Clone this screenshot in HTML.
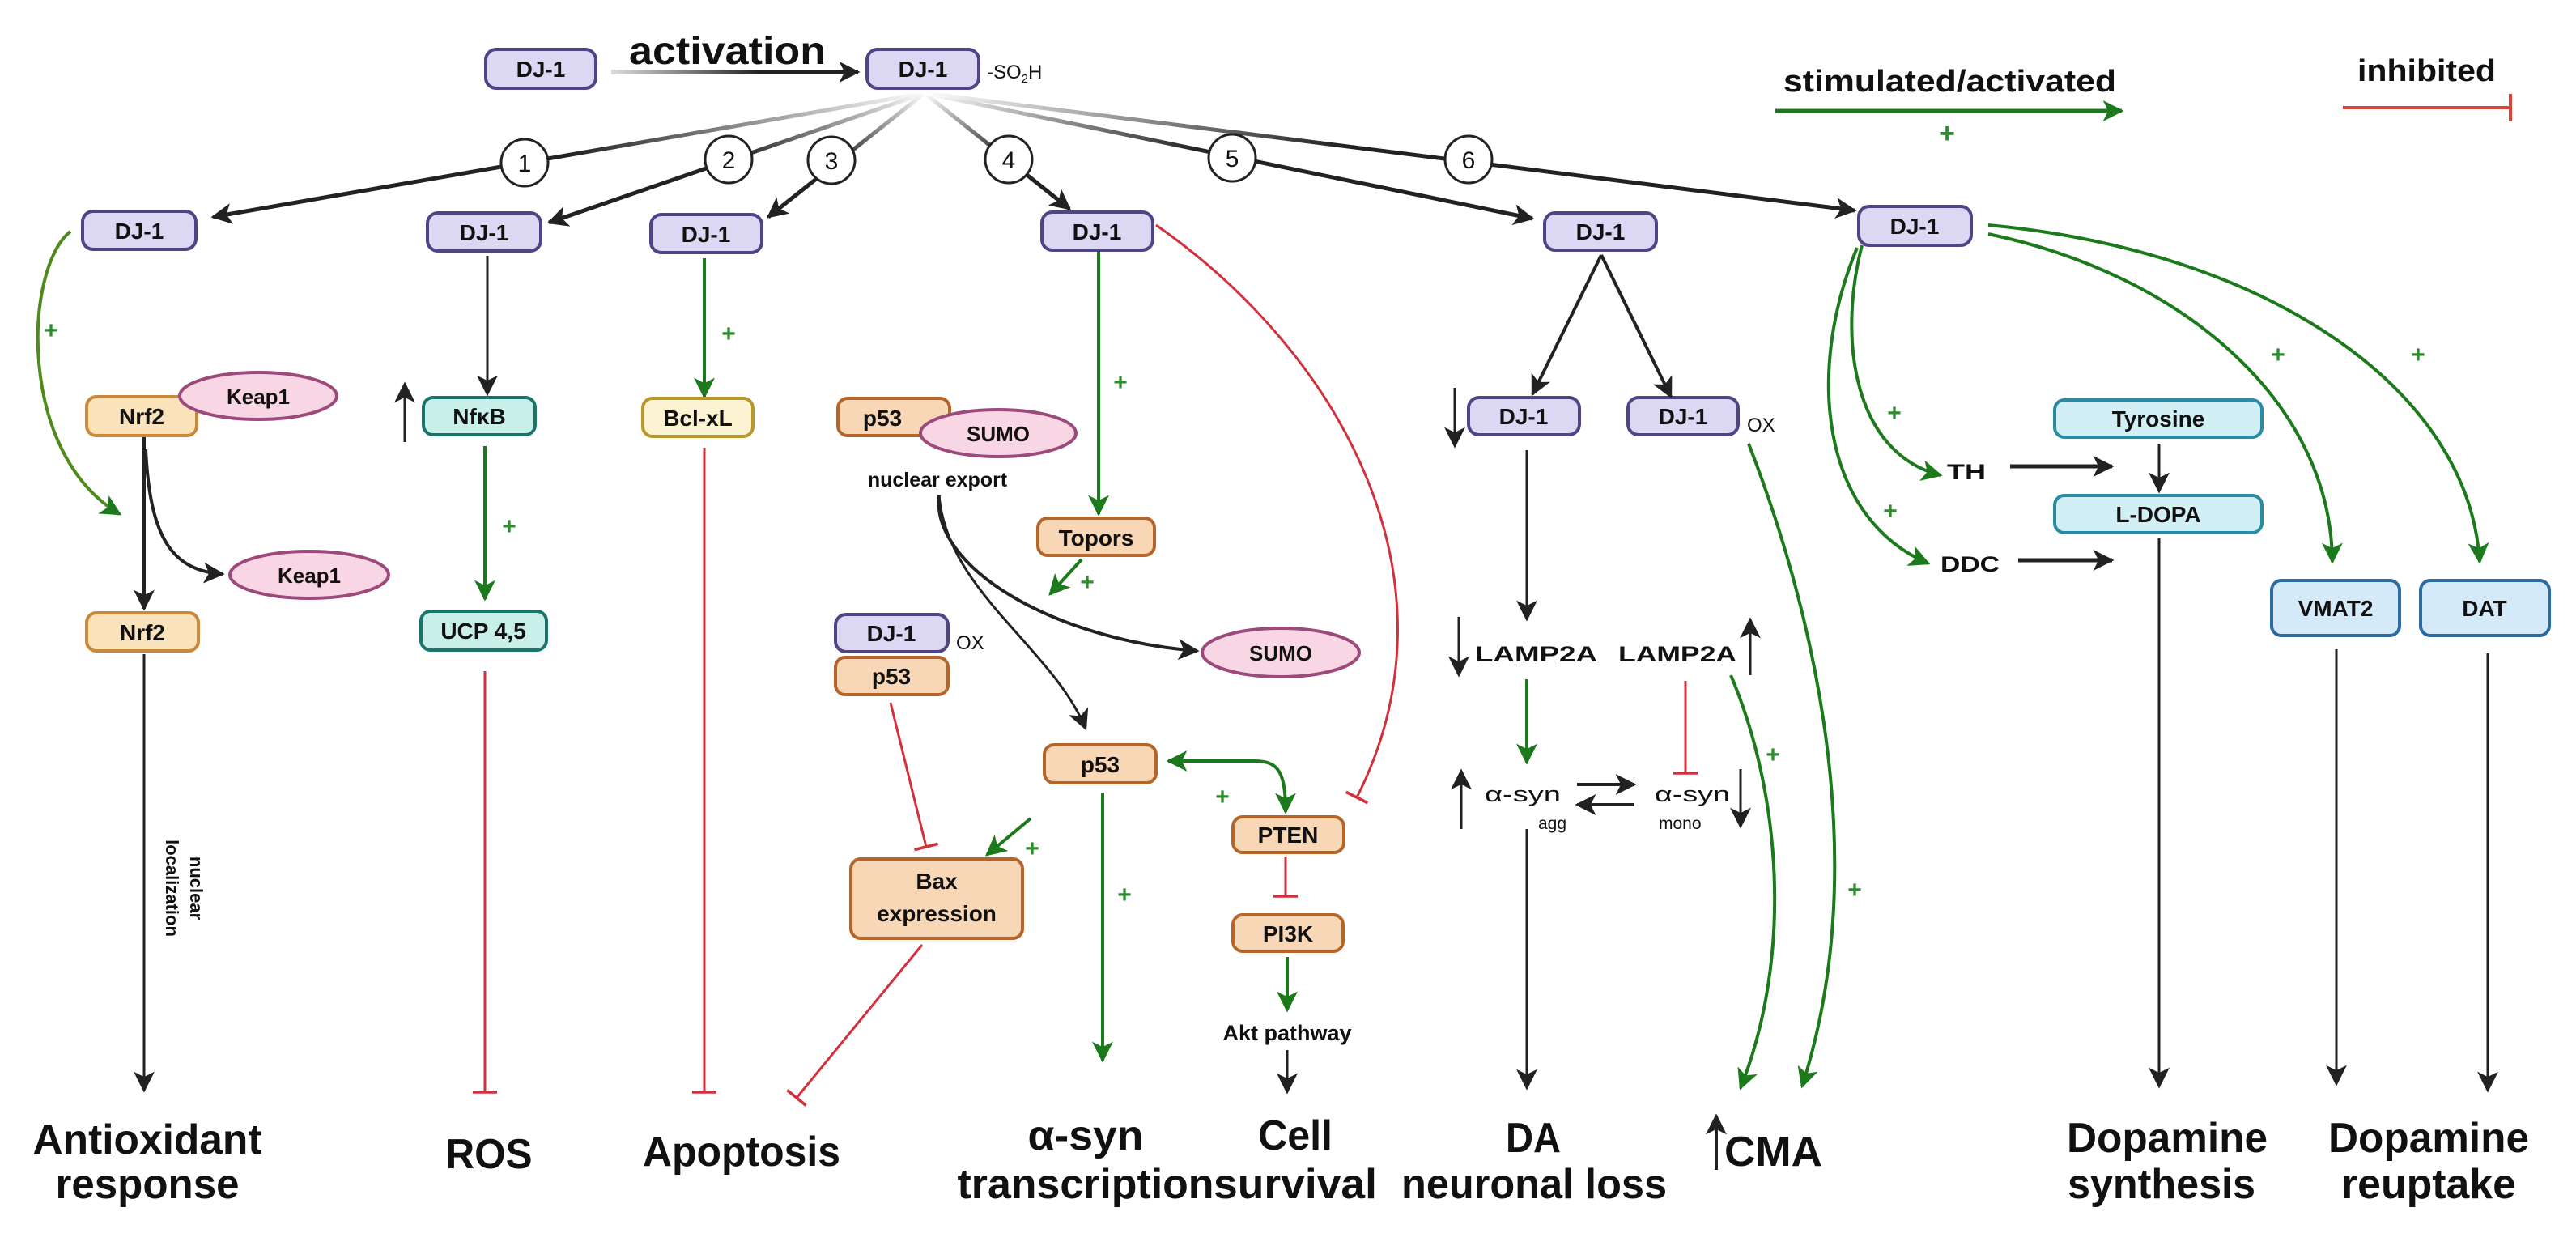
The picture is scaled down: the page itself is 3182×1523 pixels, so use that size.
<!DOCTYPE html>
<html><head><meta charset="utf-8"><style>
html,body{margin:0;padding:0;background:#fff;}
svg{display:block;}
text{font-family:"Liberation Sans",sans-serif;font-weight:bold;fill:#111;}
.bt{font-size:28px;text-anchor:middle;}
.big{font-size:52px;text-anchor:middle;}
.med{font-size:27px;}
.pl{font-size:30px;fill:#2e8b2e;text-anchor:middle;}
</style></head><body>
<svg width="3182" height="1523" viewBox="0 0 3182 1523" xmlns="http://www.w3.org/2000/svg">
<defs>
<marker id="ab" viewBox="0 0 10 10" refX="9" refY="5" markerWidth="26" markerHeight="26" markerUnits="userSpaceOnUse" orient="auto"><path d="M0,0 L10,5 L0,10 L2.5,5z" fill="#222"/></marker>
<marker id="ag" viewBox="0 0 10 10" refX="9" refY="5" markerWidth="26" markerHeight="26" markerUnits="userSpaceOnUse" orient="auto-start-reverse"><path d="M0,0 L10,5 L0,10 L2.5,5z" fill="#1c7a1c"/></marker>
<marker id="tee" viewBox="0 0 10 10" refX="5" refY="5" markerWidth="30" markerHeight="30" markerUnits="userSpaceOnUse" orient="auto"><path d="M5,0 V10" stroke="#d0313b" stroke-width="1.2"/></marker>
<linearGradient id="gact" gradientUnits="userSpaceOnUse" x1="755" y1="89" x2="1060" y2="89"><stop offset="0" stop-color="#ddd"/><stop offset="0.6" stop-color="#222"/></linearGradient>
<linearGradient id="g1" gradientUnits="userSpaceOnUse" x1="1142" y1="115" x2="263" y2="268"><stop offset="0" stop-color="#fff"/><stop offset="0.5" stop-color="#222"/></linearGradient>
<linearGradient id="g2" gradientUnits="userSpaceOnUse" x1="1142" y1="115" x2="678" y2="275"><stop offset="0" stop-color="#fff"/><stop offset="0.5" stop-color="#222"/></linearGradient>
<linearGradient id="g3" gradientUnits="userSpaceOnUse" x1="1142" y1="115" x2="949" y2="268"><stop offset="0" stop-color="#fff"/><stop offset="0.55" stop-color="#222"/></linearGradient>
<linearGradient id="g4" gradientUnits="userSpaceOnUse" x1="1142" y1="115" x2="1321" y2="258"><stop offset="0" stop-color="#fff"/><stop offset="0.55" stop-color="#222"/></linearGradient>
<linearGradient id="g5" gradientUnits="userSpaceOnUse" x1="1142" y1="115" x2="1893" y2="270"><stop offset="0" stop-color="#fff"/><stop offset="0.45" stop-color="#222"/></linearGradient>
<linearGradient id="g6" gradientUnits="userSpaceOnUse" x1="1142" y1="115" x2="2291" y2="260"><stop offset="0" stop-color="#fff"/><stop offset="0.45" stop-color="#222"/></linearGradient>
</defs>

<!-- top -->
<rect x="600" y="61" width="136" height="48" rx="13" fill="#dcd8f3" stroke="#4e4486" stroke-width="4"/>
<text class="bt" x="668" y="95">DJ-1</text>
<text x="777" y="79" style="font-size:48px" textLength="243" lengthAdjust="spacingAndGlyphs">activation</text>
<line x1="755" y1="89" x2="1060" y2="89" stroke="url(#gact)" stroke-width="6" marker-end="url(#ab)"/>
<rect x="1071" y="61" width="138" height="48" rx="13" fill="#dcd8f3" stroke="#4e4486" stroke-width="4"/>
<text class="bt" x="1140" y="95">DJ-1</text>
<text x="1219" y="97" style="font-size:24px;font-weight:normal">-SO<tspan style="font-size:15px" dy="5">2</tspan><tspan dy="-5">H</tspan></text>

<!-- fan -->
<g stroke-width="5" fill="none">
<line x1="1142" y1="115" x2="263" y2="268" stroke="url(#g1)" marker-end="url(#ab)"/>
<line x1="1142" y1="115" x2="678" y2="275" stroke="url(#g2)" marker-end="url(#ab)"/>
<line x1="1142" y1="115" x2="949" y2="268" stroke="url(#g3)" marker-end="url(#ab)"/>
<line x1="1142" y1="115" x2="1321" y2="258" stroke="url(#g4)" marker-end="url(#ab)"/>
<line x1="1142" y1="115" x2="1893" y2="270" stroke="url(#g5)" marker-end="url(#ab)"/>
<line x1="1142" y1="115" x2="2291" y2="260" stroke="url(#g6)" marker-end="url(#ab)"/>
</g>
<g fill="#fff" stroke="#222" stroke-width="3">
<circle cx="648" cy="201" r="29"/><circle cx="900" cy="197" r="29"/><circle cx="1027" cy="198" r="29"/>
<circle cx="1246" cy="197" r="29"/><circle cx="1522" cy="195" r="29"/><circle cx="1814" cy="197" r="29"/>
</g>
<g style="font-size:30px;font-weight:normal" text-anchor="middle">
<text x="648" y="212" style="font-weight:normal">1</text><text x="900" y="208" style="font-weight:normal">2</text><text x="1027" y="209" style="font-weight:normal">3</text>
<text x="1246" y="208" style="font-weight:normal">4</text><text x="1522" y="206" style="font-weight:normal">5</text><text x="1814" y="208" style="font-weight:normal">6</text>
</g>

<!-- row 2 DJ-1 -->
<g fill="#dcd8f3" stroke="#4e4486" stroke-width="4">
<rect x="102" y="261" width="140" height="47" rx="13"/>
<rect x="528" y="263" width="140" height="47" rx="13"/>
<rect x="804" y="265" width="137" height="47" rx="13"/>
<rect x="1287" y="262" width="137" height="47" rx="13"/>
<rect x="1908" y="263" width="138" height="46" rx="13"/>
<rect x="2296" y="255" width="139" height="48" rx="13"/>
<rect x="1814" y="491" width="137" height="46" rx="13"/>
<rect x="2011" y="491" width="136" height="46" rx="13"/>
<rect x="1032" y="759" width="139" height="46" rx="13"/>
</g>
<text class="bt" x="172" y="295">DJ-1</text>
<text class="bt" x="598" y="297">DJ-1</text>
<text class="bt" x="872" y="299">DJ-1</text>
<text class="bt" x="1355" y="296">DJ-1</text>
<text class="bt" x="1977" y="296">DJ-1</text>
<text class="bt" x="2365" y="289">DJ-1</text>
<text class="bt" x="1882" y="524">DJ-1</text>
<text class="bt" x="2079" y="524">DJ-1</text>
<text class="bt" x="1101" y="792">DJ-1</text>
<text x="2158" y="533" style="font-size:24px;font-weight:normal">OX</text>
<text x="1181" y="802" style="font-size:24px;font-weight:normal">OX</text>

<!-- column 1 -->
<path d="M87,286 C30,330 20,560 148,635" fill="none" stroke="#4e8a1c" stroke-width="4" marker-end="url(#ag)"/>
<text class="pl" x="63" y="418">+</text>
<rect x="107" y="490" width="136" height="48" rx="12" fill="#fae3bb" stroke="#c9893a" stroke-width="4"/>
<text class="bt" x="175" y="524">Nrf2</text>
<ellipse cx="319" cy="489" rx="97" ry="29" fill="#f9d6e4" stroke="#9c4a7c" stroke-width="4"/>
<text class="bt" x="319" y="499" style="font-size:26px">Keap1</text>
<line x1="178" y1="540" x2="178" y2="752" stroke="#222" stroke-width="4" marker-end="url(#ab)"/>
<path d="M180,555 C185,660 210,705 275,709" fill="none" stroke="#222" stroke-width="4" marker-end="url(#ab)"/>
<ellipse cx="382" cy="710" rx="98" ry="29" fill="#f9d6e4" stroke="#9c4a7c" stroke-width="4"/>
<text class="bt" x="382" y="720" style="font-size:26px">Keap1</text>
<rect x="107" y="757" width="138" height="47" rx="12" fill="#fae3bb" stroke="#c9893a" stroke-width="4"/>
<text class="bt" x="176" y="791">Nrf2</text>
<line x1="178" y1="808" x2="178" y2="1347" stroke="#222" stroke-width="3" marker-end="url(#ab)"/>
<g transform="translate(205,1097) rotate(90)"><text x="0" y="0" style="font-size:22px" text-anchor="middle">localization</text></g>
<g transform="translate(235,1097) rotate(90)"><text x="0" y="0" style="font-size:22px" text-anchor="middle">nuclear</text></g>
<text class="big" x="182" y="1425" textLength="283" lengthAdjust="spacingAndGlyphs">Antioxidant</text>
<text class="big" x="182" y="1480" textLength="227" lengthAdjust="spacingAndGlyphs">response</text>

<!-- column 2 -->
<line x1="602" y1="316" x2="602" y2="487" stroke="#222" stroke-width="3" marker-end="url(#ab)"/>
<line x1="500" y1="546" x2="500" y2="474" stroke="#222" stroke-width="3" marker-end="url(#ab)"/>
<rect x="523" y="491" width="138" height="46" rx="12" fill="#c9efe9" stroke="#19756a" stroke-width="4"/>
<text class="bt" x="592" y="524">NfκB</text>
<line x1="599" y1="551" x2="599" y2="740" stroke="#1c7a1c" stroke-width="4" marker-end="url(#ag)"/>
<text class="pl" x="629" y="660">+</text>
<rect x="520" y="755" width="155" height="48" rx="12" fill="#c9efe9" stroke="#19756a" stroke-width="4"/>
<text class="bt" x="597" y="789">UCP 4,5</text>
<line x1="599" y1="829" x2="599" y2="1349" stroke="#d0313b" stroke-width="3" marker-end="url(#tee)"/>
<text class="big" x="604" y="1443" textLength="107" lengthAdjust="spacingAndGlyphs">ROS</text>

<!-- column 3 -->
<line x1="870" y1="319" x2="870" y2="490" stroke="#1c7a1c" stroke-width="4" marker-end="url(#ag)"/>
<text class="pl" x="900" y="422">+</text>
<rect x="794" y="492" width="136" height="47" rx="12" fill="#fbf3d2" stroke="#b8982a" stroke-width="4"/>
<text class="bt" x="862" y="526">Bcl-xL</text>
<line x1="870" y1="553" x2="870" y2="1349" stroke="#d0313b" stroke-width="3" marker-end="url(#tee)"/>
<text class="big" x="916" y="1440" textLength="244" lengthAdjust="spacingAndGlyphs">Apoptosis</text>

<!-- column 4 -->
<rect x="1035" y="492" width="138" height="46" rx="12" fill="#f7d7b5" stroke="#b5652a" stroke-width="4"/>
<text class="bt" x="1090" y="526">p53</text>
<ellipse cx="1233" cy="535" rx="96" ry="29" fill="#f9d6e4" stroke="#9c4a7c" stroke-width="4"/>
<text class="bt" x="1233" y="545" style="font-size:26px">SUMO</text>
<text x="1158" y="601" style="font-size:25px" text-anchor="middle">nuclear export</text>
<path d="M1160,612 C1150,700 1300,790 1479,804" fill="none" stroke="#222" stroke-width="4" marker-end="url(#ab)"/>
<path d="M1160,612 C1170,730 1300,800 1341,900" fill="none" stroke="#222" stroke-width="3" marker-end="url(#ab)"/>
<ellipse cx="1582" cy="806" rx="97" ry="30" fill="#f9d6e4" stroke="#9c4a7c" stroke-width="4"/>
<text class="bt" x="1582" y="816" style="font-size:26px">SUMO</text>
<line x1="1357" y1="311" x2="1357" y2="635" stroke="#1c7a1c" stroke-width="4" marker-end="url(#ag)"/>
<text class="pl" x="1384" y="482">+</text>
<rect x="1282" y="640" width="144" height="46" rx="12" fill="#f7d7b5" stroke="#b5652a" stroke-width="4"/>
<text class="bt" x="1354" y="674">Topors</text>
<line x1="1336" y1="691" x2="1297" y2="734" stroke="#1c7a1c" stroke-width="4" marker-end="url(#ag)"/>
<text class="pl" x="1343" y="729">+</text>
<rect x="1032" y="812" width="139" height="46" rx="12" fill="#f7d7b5" stroke="#b5652a" stroke-width="4"/>
<text class="bt" x="1101" y="845">p53</text>
<line x1="1100" y1="868" x2="1144" y2="1046" stroke="#d0313b" stroke-width="3" marker-end="url(#tee)"/>
<rect x="1051" y="1061" width="212" height="98" rx="12" fill="#f7d7b5" stroke="#b5652a" stroke-width="4"/>
<text class="bt" x="1157" y="1098">Bax</text>
<text class="bt" x="1157" y="1138">expression</text>
<line x1="1273" y1="1011" x2="1219" y2="1056" stroke="#1c7a1c" stroke-width="4" marker-end="url(#ag)"/>
<text class="pl" x="1275" y="1058">+</text>
<line x1="1139" y1="1167" x2="984" y2="1356" stroke="#d0313b" stroke-width="3" marker-end="url(#tee)"/>
<rect x="1290" y="920" width="138" height="47" rx="12" fill="#f7d7b5" stroke="#b5652a" stroke-width="4"/>
<text class="bt" x="1359" y="954">p53</text>
<line x1="1362" y1="979" x2="1362" y2="1310" stroke="#1c7a1c" stroke-width="4" marker-end="url(#ag)"/>
<text class="pl" x="1389" y="1115">+</text>
<path d="M1443,940 L1550,940 C1580,940 1588,955 1588,1003" fill="none" stroke="#1c7a1c" stroke-width="4" marker-start="url(#ag)" marker-end="url(#ag)"/>
<text class="pl" x="1510" y="994">+</text>
<rect x="1523" y="1009" width="137" height="44" rx="12" fill="#f7d7b5" stroke="#b5652a" stroke-width="4"/>
<text class="bt" x="1591" y="1041">PTEN</text>
<line x1="1588" y1="1058" x2="1588" y2="1107" stroke="#d0313b" stroke-width="3" marker-end="url(#tee)"/>
<rect x="1523" y="1130" width="136" height="45" rx="12" fill="#f7d7b5" stroke="#b5652a" stroke-width="4"/>
<text class="bt" x="1591" y="1163">PI3K</text>
<line x1="1590" y1="1182" x2="1590" y2="1248" stroke="#1c7a1c" stroke-width="4" marker-end="url(#ag)"/>
<text x="1590" y="1285" class="med" text-anchor="middle">Akt pathway</text>
<line x1="1590" y1="1297" x2="1590" y2="1349" stroke="#222" stroke-width="3" marker-end="url(#ab)"/>
<path d="M1428,278 C1660,440 1810,720 1676,985" fill="none" stroke="#d0313b" stroke-width="3" marker-end="url(#tee)"/>
<text class="big" x="1341" y="1420" textLength="143" lengthAdjust="spacingAndGlyphs">α-syn</text>
<text class="big" x="1341" y="1480" textLength="317" lengthAdjust="spacingAndGlyphs">transcription</text>
<text class="big" x="1600" y="1420" textLength="92" lengthAdjust="spacingAndGlyphs">Cell</text>
<text class="big" x="1600" y="1480" textLength="202" lengthAdjust="spacingAndGlyphs">survival</text>

<!-- column 5 -->
<line x1="1978" y1="315" x2="1893" y2="487" stroke="#222" stroke-width="4" marker-end="url(#ab)"/>
<line x1="1978" y1="315" x2="2064" y2="490" stroke="#222" stroke-width="4" marker-end="url(#ab)"/>
<line x1="1797" y1="479" x2="1797" y2="551" stroke="#222" stroke-width="3" marker-end="url(#ab)"/>
<line x1="1886" y1="556" x2="1886" y2="765" stroke="#222" stroke-width="3" marker-end="url(#ab)"/>
<line x1="1802" y1="762" x2="1802" y2="834" stroke="#222" stroke-width="3" marker-end="url(#ab)"/>
<text x="1822" y="817" class="med" textLength="151" lengthAdjust="spacingAndGlyphs">LAMP2A</text>
<text x="1999" y="817" class="med" textLength="146" lengthAdjust="spacingAndGlyphs">LAMP2A</text>
<line x1="2162" y1="834" x2="2162" y2="765" stroke="#222" stroke-width="3" marker-end="url(#ab)"/>
<line x1="1886" y1="839" x2="1886" y2="942" stroke="#1c7a1c" stroke-width="4" marker-end="url(#ag)"/>
<line x1="2082" y1="841" x2="2082" y2="955" stroke="#d0313b" stroke-width="3" marker-end="url(#tee)"/>
<line x1="1805" y1="1024" x2="1805" y2="952" stroke="#222" stroke-width="3" marker-end="url(#ab)"/>
<text x="1834" y="990" class="med" style="font-weight:normal" textLength="94" lengthAdjust="spacingAndGlyphs">α-syn</text>
<text x="1900" y="1024" style="font-size:21px;font-weight:normal">agg</text>
<line x1="1948" y1="969" x2="2019" y2="969" stroke="#222" stroke-width="4" marker-end="url(#ab)"/>
<line x1="2019" y1="994" x2="1948" y2="994" stroke="#222" stroke-width="4" marker-end="url(#ab)"/>
<text x="2044" y="990" class="med" style="font-weight:normal" textLength="93" lengthAdjust="spacingAndGlyphs">α-syn</text>
<text x="2049" y="1024" style="font-size:21px;font-weight:normal">mono</text>
<line x1="2150" y1="950" x2="2150" y2="1021" stroke="#222" stroke-width="3" marker-end="url(#ab)"/>
<line x1="1886" y1="1024" x2="1886" y2="1344" stroke="#222" stroke-width="3" marker-end="url(#ab)"/>
<path d="M2160,548 C2250,780 2310,1080 2226,1342" fill="none" stroke="#1c7a1c" stroke-width="4" marker-end="url(#ag)"/>
<text class="pl" x="2291" y="1109">+</text>
<path d="M2138,834 C2200,980 2215,1180 2150,1344" fill="none" stroke="#1c7a1c" stroke-width="4" marker-end="url(#ag)"/>
<text class="pl" x="2190" y="942">+</text>
<text class="big" x="1894" y="1423" textLength="68" lengthAdjust="spacingAndGlyphs">DA</text>
<text class="big" x="1895" y="1480" textLength="328" lengthAdjust="spacingAndGlyphs">neuronal loss</text>
<line x1="2120" y1="1445" x2="2120" y2="1378" stroke="#222" stroke-width="4" marker-end="url(#ab)"/>
<text x="2130" y="1440" style="font-size:52px" textLength="121" lengthAdjust="spacingAndGlyphs">CMA</text>

<!-- column 6 -->
<path d="M2300,303 C2270,420 2290,560 2397,587" fill="none" stroke="#1c7a1c" stroke-width="4" marker-end="url(#ag)"/>
<path d="M2294,306 C2230,460 2250,640 2382,696" fill="none" stroke="#1c7a1c" stroke-width="4" marker-end="url(#ag)"/>
<text class="pl" x="2340" y="520">+</text>
<text class="pl" x="2335" y="641">+</text>
<text x="2405" y="592" class="med" textLength="48" lengthAdjust="spacingAndGlyphs">TH</text>
<line x1="2483" y1="576" x2="2609" y2="576" stroke="#222" stroke-width="5" marker-end="url(#ab)"/>
<text x="2397" y="706" class="med" textLength="73" lengthAdjust="spacingAndGlyphs">DDC</text>
<line x1="2493" y1="692" x2="2609" y2="692" stroke="#222" stroke-width="5" marker-end="url(#ab)"/>
<rect x="2538" y="494" width="256" height="46" rx="12" fill="#d3eff6" stroke="#2b8ba3" stroke-width="4"/>
<text class="bt" x="2666" y="527">Tyrosine</text>
<line x1="2667" y1="548" x2="2667" y2="607" stroke="#222" stroke-width="3" marker-end="url(#ab)"/>
<rect x="2538" y="612" width="256" height="46" rx="12" fill="#d3eff6" stroke="#2b8ba3" stroke-width="4"/>
<text class="bt" x="2666" y="645">L-DOPA</text>
<line x1="2667" y1="665" x2="2667" y2="1342" stroke="#222" stroke-width="3" marker-end="url(#ab)"/>
<path d="M2456,289 C2700,340 2880,500 2881,694" fill="none" stroke="#1c7a1c" stroke-width="4" marker-end="url(#ag)"/>
<path d="M2456,278 C2800,310 3050,480 3063,694" fill="none" stroke="#1c7a1c" stroke-width="4" marker-end="url(#ag)"/>
<text class="pl" x="2814" y="448">+</text>
<text class="pl" x="2987" y="448">+</text>
<rect x="2806" y="717" width="158" height="68" rx="12" fill="#d5eaf8" stroke="#2c6aa0" stroke-width="4"/>
<text class="bt" x="2885" y="761">VMAT2</text>
<rect x="2990" y="717" width="159" height="68" rx="12" fill="#d5eaf8" stroke="#2c6aa0" stroke-width="4"/>
<text class="bt" x="3069" y="761">DAT</text>
<line x1="2886" y1="802" x2="2886" y2="1339" stroke="#222" stroke-width="3" marker-end="url(#ab)"/>
<line x1="3073" y1="807" x2="3073" y2="1347" stroke="#222" stroke-width="3" marker-end="url(#ab)"/>
<text class="big" x="2677" y="1423" textLength="248" lengthAdjust="spacingAndGlyphs">Dopamine</text>
<text class="big" x="2670" y="1480" textLength="232" lengthAdjust="spacingAndGlyphs">synthesis</text>
<text class="big" x="3000" y="1423" textLength="248" lengthAdjust="spacingAndGlyphs">Dopamine</text>
<text class="big" x="3000" y="1480" textLength="216" lengthAdjust="spacingAndGlyphs">reuptake</text>

<!-- legend -->
<text x="2203" y="113" style="font-size:38px" textLength="411" lengthAdjust="spacingAndGlyphs">stimulated/activated</text>
<line x1="2193" y1="137" x2="2621" y2="137" stroke="#1c7a1c" stroke-width="5" marker-end="url(#ag)"/>
<text class="pl" x="2405" y="176" style="font-size:34px">+</text>
<text x="2912" y="100" style="font-size:38px" textLength="171" lengthAdjust="spacingAndGlyphs">inhibited</text>
<line x1="2894" y1="133" x2="3101" y2="133" stroke="#e0403a" stroke-width="4"/>
<line x1="3101" y1="116" x2="3101" y2="150" stroke="#e0403a" stroke-width="4"/>
</svg>
</body></html>
